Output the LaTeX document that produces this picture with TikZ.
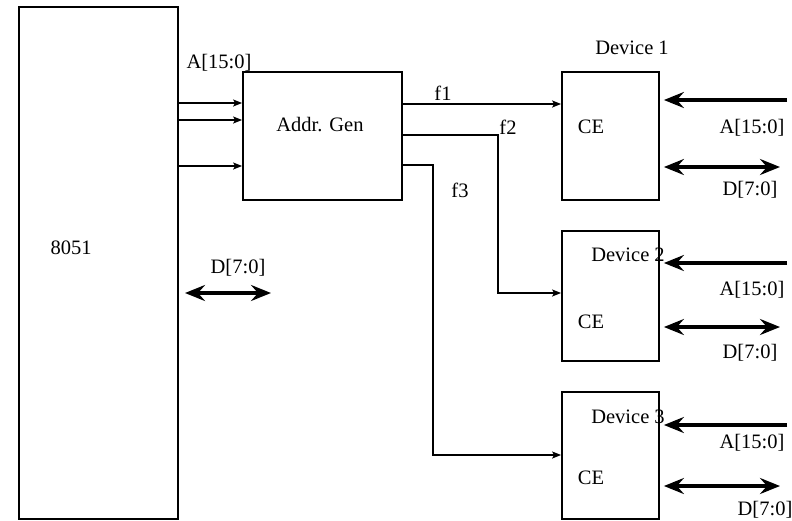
\documentclass[tikz,border=0pt]{standalone}
\usepackage{fontspec}
\setmainfont{Liberation Serif}
\usetikzlibrary{arrows.meta}
\begin{document}
\begin{tikzpicture}[x=1pt,y=-1pt,
  box/.style={draw, line width=1.8pt, minimum width=#1, inner sep=0pt},
  lbl/.style={inner sep=0pt, font=\fontsize{20.5}{23}\selectfont},
  thin/.style={line width=1.5pt, -{Stealth[length=9pt,width=7pt,inset=2pt]}},
  bus/.style={line width=3.8pt, -{Stealth[length=20pt,width=16pt,inset=7pt]}},
  bibus/.style={line width=3.8pt, {Stealth[length=20pt,width=16pt,inset=7pt]}-{Stealth[length=20pt,width=16pt,inset=7pt]}}]
\useasboundingbox (0,0) rectangle (792,520);
% boxes
\node[box=159pt, minimum height=512pt] (cpu) at (98.5,263) {};
\node[box=159pt, minimum height=128pt] (agen) at (322.5,136) {};
\node[box=97pt, minimum height=128pt] (d1) at (610.5,136) {};
\node[box=97pt, minimum height=130pt] (d2) at (610.5,296) {};
\node[box=97pt, minimum height=127pt] (d3) at (610.5,455.5) {};
% labels
\node[lbl] (t8051) at (71,248) {8051};
\node[lbl] (tagen) at (320,125) {Addr. Gen};
\node[lbl] (tA) at (219,63) {A[15:0]};
\node[lbl] (tD) at (238,268) {D[7:0]};
\node[lbl] (tf1) at (443,93) {f1};
\node[lbl] (tf2) at (508,127) {f2};
\node[lbl] (tf3) at (460,190) {f3};
\node[lbl] (tdev1) at (632,48) {Device 1};
\node[lbl] (tdev2) at (628,255) {Device 2};
\node[lbl] (tdev3) at (628,417) {Device 3};
\node[lbl] (ce1) at (591,127) {CE};
\node[lbl] (ce2) at (591,322) {CE};
\node[lbl] (ce3) at (591,478) {CE};
\node[lbl] (a1) at (752,128) {A[15:0]};
\node[lbl] (dd1) at (750,190) {D[7:0]};
\node[lbl] (a2) at (752,290) {A[15:0]};
\node[lbl] (dd2) at (750,353) {D[7:0]};
\node[lbl] (a3) at (752,443) {A[15:0]};
\node[lbl] (dd3) at (765,510) {D[7:0]};
% address lines into Addr Gen
\draw[thin] (cpu.east|-0,103) -- (agen.west|-0,103);
\draw[thin] (cpu.east|-0,120) -- (agen.west|-0,120);
\draw[thin] (cpu.east|-0,166) -- (agen.west|-0,166);
% chip enables
\draw[thin] (agen.east|-0,104) -- (d1.west|-0,104);
\coordinate (f2a) at (498,135);
\coordinate (f3a) at (433,165);
\draw[thin] (agen.east|-f2a) -- (f2a) -- (f2a|-0,293) -- (d2.west|-0,293);
\draw[thin] (agen.east|-f3a) -- (f3a) -- (f3a|-0,455) -- (d3.west|-0,455);
% left data bus
\coordinate (dl) at (185,293);
\coordinate (dr) at (271,293);
\draw[bibus] (dl) -- (dr);
% device buses
\coordinate (ae1) at (787,100);
\coordinate (ae2) at (787,263);
\coordinate (ae3) at (787,425);
\draw[bus] (ae1) -- ([xshift=4pt]d1.east|-ae1);
\draw[bus] (ae2) -- ([xshift=4pt]d2.east|-ae2);
\draw[bus] (ae3) -- ([xshift=4pt]d3.east|-ae3);
\coordinate (de1) at (780,167);
\coordinate (de2) at (780,327);
\coordinate (de3) at (780,486);
\draw[bibus] ([xshift=4pt]d1.east|-de1) -- (de1);
\draw[bibus] ([xshift=4pt]d2.east|-de2) -- (de2);
\draw[bibus] ([xshift=4pt]d3.east|-de3) -- (de3);
\end{tikzpicture}
\end{document}
